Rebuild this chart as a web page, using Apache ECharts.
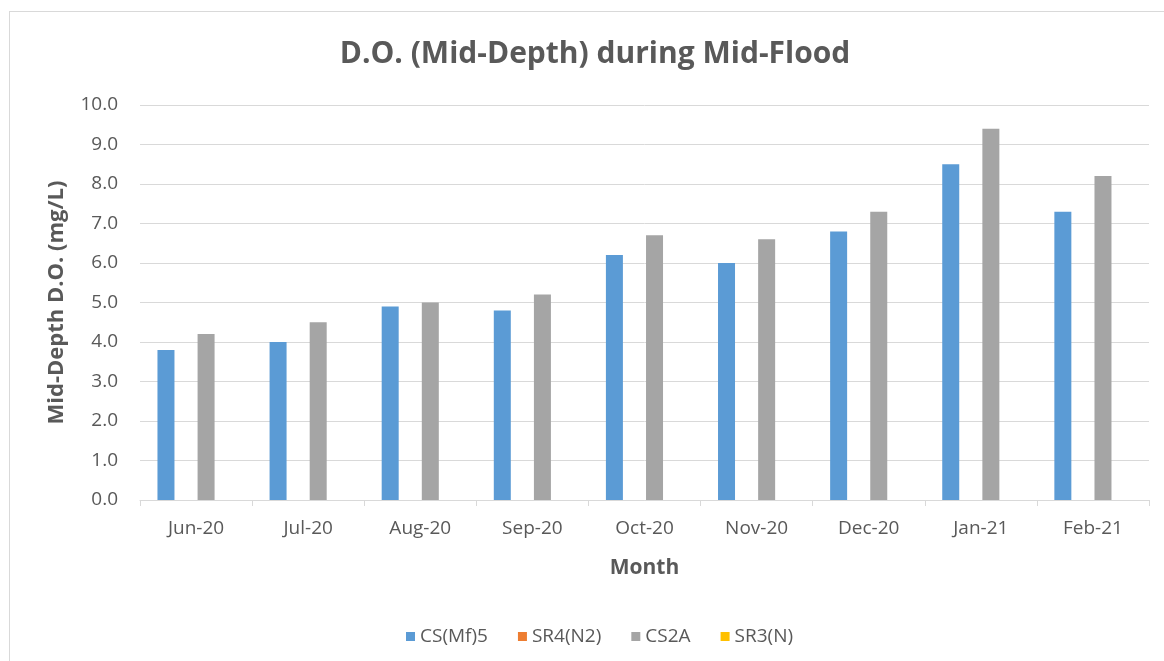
<!DOCTYPE html>
<html>
<head>
<meta charset="utf-8">
<script src="https://cdn.jsdelivr.net/npm/echarts@6/dist/echarts.min.js"></script>
<style>
html,body{margin:0;padding:0;background:#fff;overflow:hidden;}
#frame{position:absolute;left:9px;top:11px;width:1200px;height:700px;border:1px solid #d9d9d9;box-sizing:border-box;}
#chart{position:absolute;left:0;top:0;width:1164px;height:661px;}
</style>
</head>
<body>
<div id="frame"></div>
<div id="chart"></div>
<script>
const months = ['Jun-20','Jul-20','Aug-20','Sep-20','Oct-20','Nov-20','Dec-20','Jan-21','Feb-21'];
const seriesNames = ['CS(Mf)5','SR4(N2)','CS2A','SR3(N)'];
const csmf5 = [3.8, 4.0, 4.9, 4.8, 6.2, 6.0, 6.8, 8.5, 7.3];
const sr4n2 = [null, null, null, null, null, null, null, null, null];
const cs2a = [4.2, 4.5, 5.0, 5.2, 6.7, 6.6, 7.3, 9.4, 8.2];
const sr3n = [null, null, null, null, null, null, null, null, null];
const colors = ['#5B9BD5','#ED7D31','#A5A5A5','#FFC000'];

const font = '"Open Sans", "Liberation Sans", sans-serif';
const chart = echarts.init(document.getElementById('chart'));
const allData = [csmf5, sr4n2, cs2a, sr3n];
chart.setOption({
  animation: false,
  textStyle: {fontFamily: font},
  title: {
    text: 'D.O. (Mid-Depth) during Mid-Flood',
    left: 590, top: 34, textAlign: 'center',
    textStyle: {fontFamily: font, fontSize: 30, fontWeight: 'bold', color: '#595959'}
  },
  legend: {
    data: seriesNames,
    left: 401, top: 622,
    itemWidth: 9, itemHeight: 9, itemGap: 30,
    icon: 'rect',
    textStyle: {fontFamily: font, fontSize: 19, color: '#595959'}
  },
  grid: {left: 140, right: 15, top: 105, bottom: 161, containLabel: false},
  xAxis: {
    type: 'category',
    data: months,
    name: 'Month', nameLocation: 'middle', nameGap: 58,
    nameTextStyle: {fontFamily: font, fontSize: 21, fontWeight: 'bold', color: '#595959'},
    axisLine: {lineStyle: {color: '#d9d9d9'}},
    axisTick: {show: true, length: 6, lineStyle: {color: '#d9d9d9'}},
    axisLabel: {fontFamily: font, fontSize: 19, color: '#595959', margin: 19}
  },
  yAxis: {
    type: 'value', min: 0, max: 10, interval: 1,
    name: 'Mid-Depth D.O. (mg/L)', nameLocation: 'middle', nameGap: 72,
    nameTextStyle: {fontFamily: font, fontSize: 22, fontWeight: 'bold', color: '#595959'},
    axisLine: {show: false}, axisTick: {show: false},
    splitLine: {lineStyle: {color: '#d9d9d9'}},
    axisLabel: {fontFamily: font, fontSize: 19, color: '#595959', margin: 22, formatter: v => v.toFixed(1)}
  },
  series: seriesNames.map((n, i) => ({
    name: n, type: 'bar', data: allData[i],
    barWidth: 17, barGap: '18%',
    itemStyle: {color: colors[i]}
  }))
});
</script>
</body>
</html>
